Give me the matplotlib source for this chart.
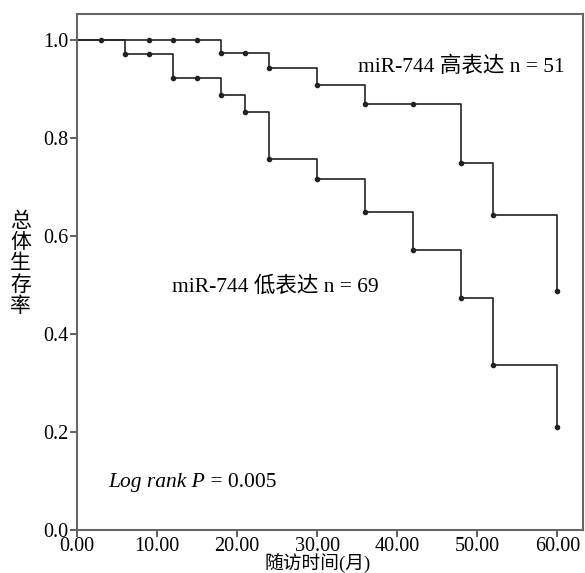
import matplotlib
matplotlib.use("Agg")
import matplotlib.pyplot as plt

# Kaplan-Meier step data (months, survival)
high_times = [0, 18, 24, 30, 36, 48, 52, 60]
high_surv = [1.0, 0.974, 0.943, 0.909, 0.870, 0.748, 0.643, 0.487]
high_censor_t = [3, 9, 12, 15, 21, 42]
high_censor_s = [1.0, 1.0, 1.0, 1.0, 0.974, 0.870]

low_times = [0, 6, 12, 18, 21, 24, 30, 36, 42, 48, 52, 60]
low_surv = [1.0, 0.971, 0.922, 0.888, 0.853, 0.758, 0.717, 0.649, 0.571, 0.474, 0.336, 0.210]
low_censor_t = [9, 15]
low_censor_s = [0.971, 0.922]

xticks = [0, 10, 20, 30, 40, 50, 60]
yticks = [0.0, 0.2, 0.4, 0.6, 0.8, 1.0]
ylabel = '总体生存率'

fonts = ['Liberation Serif', 'Noto Sans CJK SC']
plt.rcParams['font.family'] = fonts
fs = 15.5

fig = plt.figure(figsize=(5.85, 5.73), dpi=100)
ax = fig.add_axes([0.1316, 0.075, 0.865, 0.9006])

line_kw = dict(color='#222222', lw=1.2)
dot_kw = dict(color='#222222', ms=3, ls='none', marker='o')

for t, s, ct, cs in [(high_times, high_surv, high_censor_t, high_censor_s),
                     (low_times, low_surv, low_censor_t, low_censor_s)]:
    ax.step(t, s, where='post', **line_kw)
    ax.plot(t[1:], s[1:], **dot_kw)
    ax.plot(ct, cs, **dot_kw)

ax.set_xlim(0, 63.2)
ax.set_ylim(0, 1.053)
ax.set_xticks(xticks)
ax.set_xticklabels([f'{v:.2f}' for v in xticks])
ax.set_yticks(yticks)
ax.set_yticklabels([f'{v:.1f}' for v in yticks])
ax.tick_params(labelsize=14.5, length=5, width=1.2, color='#444444', pad=0)
ax.tick_params(axis='y', pad=1)
for sp in ax.spines.values():
    sp.set_color('#666666')
    sp.set_linewidth(1.5)

ax.text(35.1, 0.945, 'miR-744 高表达 n = 51', fontsize=fs, va='center')
ax.text(11.9, 0.496, 'miR-744 低表达 n = 69', fontsize=fs, va='center')
lr = ax.text(3.9, 0.096, 'Log rank P', fontsize=fs, va='center', fontstyle='italic')
ax.annotate(' = 0.005', xy=(1, 0.5), xycoords=lr, fontsize=fs, va='center')

fig.text(0.543, 0.0, '随访时间(月)', fontsize=13.5, ha='center', va='bottom')
for i, ch in enumerate(ylabel):
    fig.text(0.035, 0.612 - i * 0.037, ch, fontsize=15, ha='center', va='center')

fig.savefig('out.png')
